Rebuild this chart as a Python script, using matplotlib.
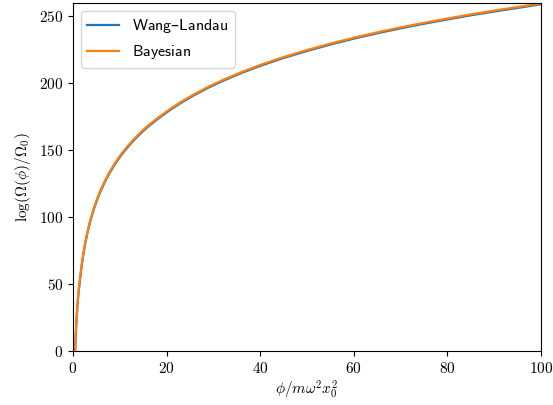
import numpy as np
import matplotlib
matplotlib.use("Agg")
import matplotlib.pyplot as plt
from matplotlib.ticker import FuncFormatter

plt.rcParams['mathtext.fontset'] = 'cm'
plt.rcParams['font.size'] = 11

# values
phi = [0.45, 0.55, 0.7, 0.85, 1.0, 1.2, 1.5, 1.8, 2.2, 2.6, 3.0, 3.5, 4.0,
       4.6, 5.2, 6.0, 7.0, 8.0, 9.0, 10.2, 11.5, 13, 14.5, 16, 18, 20.6,
       23, 26, 29, 32, 36, 40, 45, 50, 55, 60, 65, 70, 75, 80, 85, 90, 95, 100]
log_omega_bayes = [0, 10, 20.5, 29.5, 37, 45, 54, 63, 72.6, 80.6, 87.5, 94.9,
                   101.3, 108, 113.9, 120.8, 128.2, 134.6, 140.3, 146.3, 152,
                   157.9, 163.2, 167.9, 173.5, 180,
                   185.5, 191.6, 197.1, 202, 207.9, 213.2, 219.1, 224.3,
                   229.1, 233.5, 237.5, 241.2, 244.6, 247.8, 250.9, 253.7,
                   256.4, 259]
log_omega_wl = [0, 9, 19.6, 28.7, 36.2, 44.2, 53.2, 62.2, 71.8, 79.8, 86.7,
                94.1, 100.5, 107.2, 113.1, 120, 127.4, 133.8, 139.5, 145.5,
                151.2, 157.1, 162.4, 167.1, 172.7, 179.3,
                184.8, 190.9, 196.4, 201.3, 207.2, 212.5, 218.4, 223.6,
                228.4, 232.8, 236.8, 240.5, 243.9, 247.1, 250.2, 253,
                255.7, 258.4]

fig = plt.figure(figsize=(5.53, 4.05), dpi=100)
ax = fig.add_axes([0.132, 0.133, 0.846, 0.86])

ax.plot(phi, log_omega_wl, color='C0', lw=1.6,
        label=r'$\mathsf{Wang}$' + '\u2013' + r'$\mathsf{Landau}$')
ax.plot(phi, log_omega_bayes, color='C1', lw=1.6, label=r'$\mathsf{Bayesian}$')

ax.set_xlim(0, 100)
ax.set_ylim(0, max(log_omega_bayes) + 0.5)
ax.set_xticks([0, 20, 40, 60, 80, 100])
ax.set_yticks([0, 50, 100, 150, 200, 250])
fmt = FuncFormatter(lambda v, p: r'$%g$' % v)
ax.xaxis.set_major_formatter(fmt)
ax.yaxis.set_major_formatter(fmt)

ax.set_xlabel(r'$\phi/m\omega^2x_0^2$', labelpad=2)
ax.set_ylabel(r'$\log(\Omega(\phi)/\Omega_0)$')
ax.legend(loc='upper left', fontsize=11.5)

fig.savefig('out.png', dpi=100)
